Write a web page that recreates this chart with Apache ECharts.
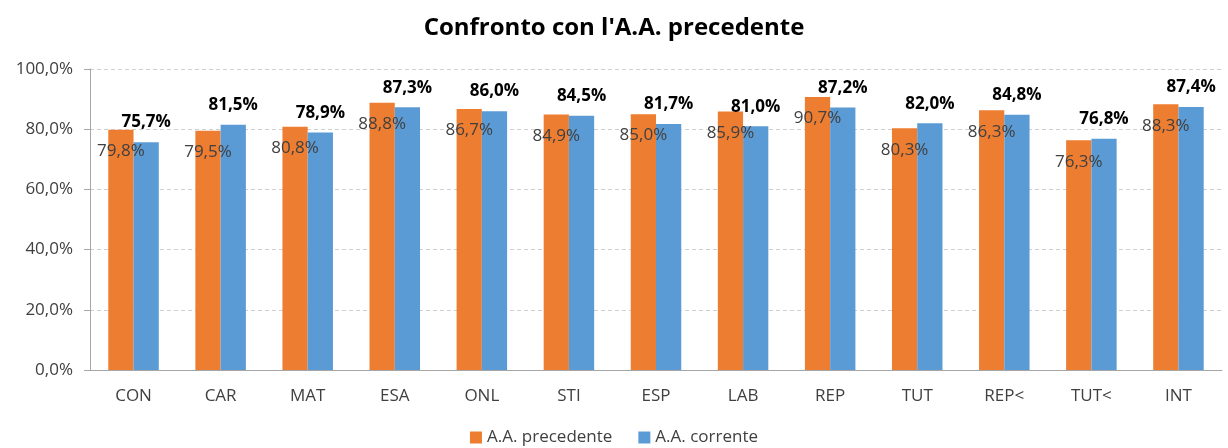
<!DOCTYPE html>
<html>
<head>
<meta charset="utf-8">
<script src="https://cdn.jsdelivr.net/npm/echarts@6/dist/echarts.min.js"></script>
<style>
  html, body { margin: 0; padding: 0; background: #fff; }
  #e { width: 1228px; height: 448px; }
</style>
</head>
<body>
<div id="e"></div>
<script>
// dati
var categories = ["CON", "CAR", "MAT", "ESA", "ONL", "STI", "ESP", "LAB", "REP", "TUT", "REP<", "TUT<", "INT"];
var precedente = [79.8, 79.5, 80.8, 88.8, 86.7, 84.9, 85.0, 85.9, 90.7, 80.3, 86.3, 76.3, 88.3];
var corrente = [75.7, 81.5, 78.9, 87.3, 86.0, 84.5, 81.7, 81.0, 87.2, 82.0, 84.8, 76.8, 87.4];
var yTicks = [0, 20, 40, 60, 80, 100];

var font = "Open Sans";
function pct(v) {
  return v.toFixed(1).replace(".", ",") + "%";
}

var myChart = echarts.init(document.getElementById("e"));
var option = {
  animation: false,
  textStyle: { fontFamily: font },
  title: {
    text: "Confronto con l'A.A. precedente",
    left: "center",
    top: 11,
    textStyle: { fontFamily: font, fontSize: 24, fontWeight: "bold", color: "#000" },
  },
  legend: {
    bottom: -3,
    left: "center",
    itemWidth: 12,
    itemHeight: 12,
    itemGap: 26,
    icon: "rect",
    textStyle: { fontFamily: font, fontSize: 17, color: "#404040" },
  },
  grid: { left: 90, right: 6, top: 69, bottom: 78 },
  xAxis: {
    type: "category",
    data: categories,
    axisLine: { lineStyle: { color: "#A6A6A6" } },
    axisTick: { length: 5, lineStyle: { color: "#A6A6A6" } },
    axisLabel: { fontFamily: font, fontSize: 17, color: "#404040", margin: 18 },
  },
  yAxis: {
    type: "value",
    min: yTicks[0],
    max: yTicks[yTicks.length - 1],
    interval: yTicks[1] - yTicks[0],
    axisLine: { show: true, lineStyle: { color: "#A6A6A6" } },
    axisTick: { show: true, length: 6, lineStyle: { color: "#A6A6A6" } },
    axisLabel: {
      fontFamily: font,
      fontSize: 17,
      color: "#404040",
      margin: 17,
      formatter: function (v) { return pct(v); },
    },
    splitLine: { lineStyle: { color: "#D0D0D0", type: [4, 3] } },
  },
  series: [
    {
      name: "A.A. precedente",
      type: "bar",
      data: precedente,
      barGap: "0%",
      barCategoryGap: "42%",
      itemStyle: { color: "#ED7D31" },
      label: {
        show: true,
        position: "insideTop",
        distance: 13,
        fontFamily: font,
        fontSize: 17,
        color: "#404040",
        formatter: function (p) { return pct(p.value); },
      },
    },
    {
      name: "A.A. corrente",
      type: "bar",
      data: corrente,
      itemStyle: { color: "#5B9BD5" },
      label: {
        show: true,
        position: "top",
        distance: 11,
        fontFamily: font,
        fontSize: 17,
        fontWeight: "bold",
        color: "#000",
        formatter: function (p) { return pct(p.value); },
      },
    },
  ],
};
myChart.setOption(option);
</script>
</body>
</html>
